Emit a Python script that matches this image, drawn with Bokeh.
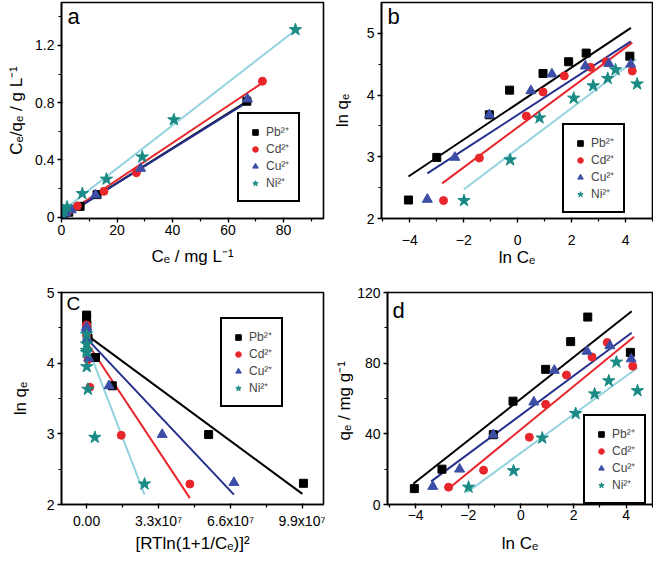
from bokeh.plotting import figure
from bokeh.layouts import column, row
from bokeh.models import Legend, LegendItem, FixedTicker, Label, Range1d
from bokeh.embed import file_html
from bokeh.resources import INLINE

FONT = "Liberation Sans"

ions = ["Pb²⁺", "Cd²⁺", "Cu²⁺", "Ni²⁺"]

# ---- panel (a): Langmuir, Ce/qe vs Ce ----
a_ce = [
    [0.02, 0.05, 0.35, 0.74, 2.6, 6.7, 12.8, 66.8],
    [0.06, 0.24, 1.4, 2.6, 5.7, 15.3, 27.0, 72.4],
    [0.035, 0.1, 0.35, 1.6, 3.5, 12.3, 28.5, 67.0],
    [0.14, 0.8, 2.0, 7.5, 16.2, 29.1, 40.5, 84.3],
]
a_ratio = [
    [0.002, 0.003, 0.009, 0.013, 0.034, 0.075, 0.157, 0.81],
    [0.006, 0.012, 0.036, 0.045, 0.077, 0.18, 0.31, 0.95],
    [0.0035, 0.005, 0.009, 0.028, 0.05, 0.155, 0.34, 0.825],
    [0.03, 0.045, 0.07, 0.164, 0.265, 0.42, 0.68, 1.31],
]
a_fit_x = [[0, 67.0], [0, 72.5], [0, 67.5], [0, 84.5]]
a_fit_y = [[-0.005, 0.81], [0.0, 0.94], [-0.005, 0.81], [0.04, 1.31]]

# ---- panel (b): Freundlich, ln qe vs ln Ce ----
ln_ce = [
    [-4.05, -3.0, -1.05, -0.3, 0.94, 1.89, 2.54, 4.16],
    [-2.75, -1.42, 0.32, 0.94, 1.73, 2.7, 3.28, 4.25],
    [-3.35, -2.33, -1.05, 0.49, 1.27, 2.51, 3.38, 4.19],
    [-1.99, -0.28, 0.81, 2.08, 2.8, 3.34, 3.63, 4.43],
]
ln_qe = [
    [2.30, 2.99, 3.68, 4.08, 4.35, 4.54, 4.68, 4.63],
    [2.29, 2.98, 3.66, 4.05, 4.31, 4.45, 4.54, 4.39],
    [2.31, 2.99, 3.68, 4.07, 4.34, 4.47, 4.51, 4.50],
    [2.29, 2.95, 3.63, 3.95, 4.15, 4.27, 4.41, 4.18],
]
b_fit_x = [[-4.05, 4.2], [-2.8, 4.25], [-3.35, 4.2], [-2.0, 4.4]]
b_fit_y = [[2.68, 5.09], [2.57, 4.85], [2.73, 4.87], [2.47, 4.58]]

# ---- panel (c): D-R, ln qe vs eps^2 ----
eps2 = [
    [9.95e7, 5.6e7, 1.18e7, 0.41e7, 0.07e7, 0.015e7, 0.004e7, 0.0],
    [4.74e7, 1.59e7, 0.15e7, 0.07e7, 0.016e7, 0.005e7, 0.001e7, 0.0],
    [6.76e7, 3.47e7, 1.03e7, 0.1e7, 0.03e7, 0.005e7, 0.001e7, 0.0],
    [2.66e7, 0.38e7, 0.06e7, 0.009e7, 0.002e7, 0.001e7, 0.0, 0.0],
]
c_fit_x = [[0, 9.9e7], [0, 4.74e7], [0, 6.76e7], [0, 2.66e7]]
c_fit_y = [[4.40, 2.15], [4.30, 2.09], [4.35, 2.14], [4.27, 2.14]]
c_tick_values = [0, 33000000, 66000000, 99000000]
c_tick_labels = ["0.00", "3.3x10⁷", "6.6x10⁷", "9.9x10⁷"]

# ---- panel (d): Temkin, qe vs ln Ce ----
d_qe = [
    [9.0, 20.0, 39.5, 58.5, 76.5, 92.2, 106.1, 86.1],
    [9.8, 19.4, 38.1, 56.7, 73.3, 83.5, 91.7, 78.3],
    [10.2, 20.0, 39.4, 58.0, 75.9, 86.7, 89.8, 82.4],
    [9.8, 19.1, 37.6, 51.5, 62.6, 70.0, 80.6, 64.4],
]
d_fit_x = [[-4.09, 4.21], [-2.8, 4.3], [-3.41, 4.21], [-2.04, 4.43]]
d_fit_y = [[11.7, 109.4], [8.3, 95.0], [13.1, 97.2], [7.0, 77.4]]

marker_colors = ["black", "#e8262b", "#3c4ea6", "#1a8a84"]
line_colors = ["black", "#e8262b", "#262f8c", "#93d3e0"]
markers = ["square", "circle", "triangle", "star"]
marker_sizes = [8, 8, 10, 13]


def make_panel(width, height, borders, xr, yr, xticks, xminor, yticks, yminor,
               xlabel, ylabel, xs, ys, fx, fy, letter, letter_xy, letter_size,
               legend_loc, x_label_standoff, x_axis_label_standoff,
               y_axis_label_standoff, x_overrides=None):
    p = figure(width=width, height=height, output_backend="svg", toolbar_location=None,
               x_range=Range1d(*xr), y_range=Range1d(*yr),
               min_border_left=borders[0], min_border_right=borders[1],
               min_border_top=borders[2], min_border_bottom=borders[3])
    p.xgrid.visible = False
    p.ygrid.visible = False
    p.outline_line_color = "black"
    p.outline_line_width = 1.6
    p.outline_line_alpha = 1.0
    p.background_fill_color = "white"
    p.border_fill_color = "white"
    p.xaxis.ticker = FixedTicker(ticks=xticks, minor_ticks=xminor)
    p.yaxis.ticker = FixedTicker(ticks=yticks, minor_ticks=yminor)
    for ax in (p.xaxis[0], p.yaxis[0]):
        ax.axis_line_width = 1.6
        ax.axis_line_color = "black"
        ax.major_tick_line_width = 1.4
        ax.minor_tick_line_width = 1.2
        ax.major_tick_line_color = "black"
        ax.minor_tick_line_color = "black"
        ax.major_tick_out = 4
        ax.major_tick_in = 1
        ax.minor_tick_out = 3
        ax.minor_tick_in = 0
        ax.major_label_text_font = FONT
        ax.major_label_text_font_size = "14px"
        ax.major_label_text_color = "black"
        ax.axis_label_text_font = FONT
        ax.axis_label_text_font_size = "17px"
        ax.axis_label_text_font_style = "normal"
        ax.axis_label_text_color = "black"
    p.xaxis.axis_label = xlabel
    p.yaxis.axis_label = ylabel
    p.xaxis.major_label_standoff = x_label_standoff
    p.yaxis.major_label_standoff = 3
    p.xaxis.axis_label_standoff = x_axis_label_standoff
    p.yaxis.axis_label_standoff = y_axis_label_standoff
    if x_overrides is not None:
        p.xaxis.major_label_overrides = x_overrides

    for i in range(4):
        p.line(fx[i], fy[i], line_color=line_colors[i], line_width=2)
    rends = []
    for i in range(4):
        r = p.scatter(xs[i], ys[i], marker=markers[i], size=marker_sizes[i],
                      fill_color=marker_colors[i], line_color=marker_colors[i])
        rends.append(r)

    items = [LegendItem(label=ions[i], renderers=[rends[i]]) for i in range(4)]
    leg = Legend(items=items, location=legend_loc, border_line_color="black",
                 border_line_width=2, border_line_alpha=1.0,
                 label_text_font=FONT, label_text_font_size="12px",
                 label_text_line_height=0.9,
                 glyph_width=14, glyph_height=14, label_height=14, spacing=0,
                 padding=9, margin=0, label_standoff=4,
                 background_fill_color="white", background_fill_alpha=1.0)
    p.add_layout(leg, "center")

    p.add_layout(Label(x=letter_xy[0], y=letter_xy[1], text=letter,
                       text_font=FONT, text_font_size=letter_size,
                       text_align="left", text_baseline="top", text_color="black"))
    return p


pa = make_panel(325, 280, (61, 2, 2, 62), (0, 94.4), (-0.01, 1.5),
                [0, 20, 40, 60, 80], [10, 30, 50, 70, 90],
                [0.0, 0.4, 0.8, 1.2], [0.2, 0.6, 1.0, 1.4],
                "Cₑ / mg L⁻¹", "Cₑ/qₑ / g L⁻¹",
                a_ce, a_ratio, a_fit_x, a_fit_y,
                "a", (2.2, 1.49), "22px", (176, 16), 2, 9, 6)

pb = make_panel(328, 280, (56, 1, 2, 62), (-5.05, 5.0), (2.0, 5.5),
                [-4, -2, 0, 2, 4], [-5, -3, -1, 1, 3, 5],
                [2, 3, 4, 5], [2.5, 3.5, 4.5],
                "ln Cₑ", "ln qₑ",
                ln_ce, ln_qe, b_fit_x, b_fit_y,
                "b", (-4.83, 5.47), "22px", (181, 5), 12, 0, 12)

pc = make_panel(325, 281, (61, 2, 12, 55), (-1.15e7, 1.087e8), (2.0, 5.0),
                c_tick_values, [16500000, 49500000, 82500000],
                [2, 3, 4, 5], [2.5, 3.5, 4.5],
                "[RTln(1+1/Cₑ)]²", "ln qₑ",
                eps2, ln_qe, c_fit_x, c_fit_y,
                "C", (-0.92e7, 5.0), "19px", (159, 97), 4, 2, 14,
                x_overrides=dict(zip(c_tick_values, c_tick_labels)))

pd = make_panel(328, 281, (62, 1, 8, 57), (-5.07, 5.0), (0, 120),
                [-4, -2, 0, 2, 4], [-5, -3, -1, 1, 3, 5],
                [0, 40, 80, 120], [20, 60, 100],
                "ln Cₑ", "qₑ  / mg g⁻¹",
                ln_ce, d_qe, d_fit_x, d_fit_y,
                "d", (-4.88, 116.7), "22px", (196, 0), 1, 11, 0)

layout = column(row(pa, pb), row(pc, pd))

open("out.html", "w").write(file_html(layout, INLINE))
